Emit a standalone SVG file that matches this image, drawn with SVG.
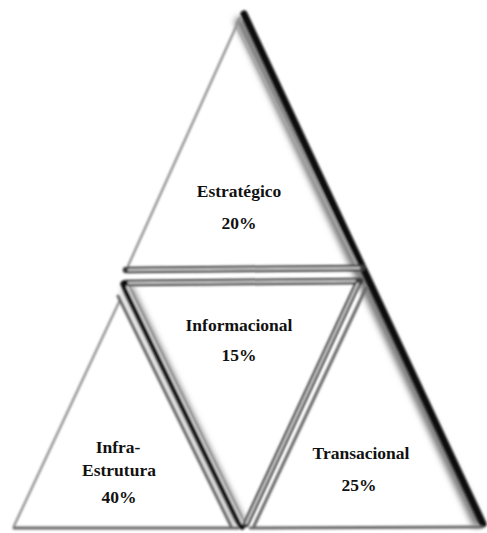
<svg xmlns="http://www.w3.org/2000/svg" width="487" height="533" viewBox="0 0 487 533">
<defs>
<filter id="soft" x="-10%" y="-10%" width="120%" height="120%"><feGaussianBlur stdDeviation="1"/></filter>
<filter id="wide" x="-10%" y="-10%" width="120%" height="120%"><feGaussianBlur stdDeviation="3"/></filter>
<style>
.lbl{font-family:"Liberation Serif","Times New Roman",serif;font-weight:bold;font-size:17.5px;fill:#111;text-anchor:middle}
.lt{stroke:#8a8a8a;stroke-width:2.2;fill:none;stroke-linecap:round}
.dk{stroke:#0a0a0a;stroke-width:7;fill:none;stroke-linecap:round}
.halo{stroke:#777;stroke-width:10;fill:none;stroke-linecap:round}
.dkw{stroke:#fff;stroke-width:1.5;fill:none}
.dbl{stroke:#3a3a3a;stroke-width:6.5;fill:none;stroke-linecap:round}
.md{stroke:#666;stroke-width:3;fill:none;stroke-linecap:round}
</style>
</defs>
<rect width="487" height="533" fill="#fff"/>
<g id="connectors">
<g filter="url(#wide)">
<line class="halo" x1="240" y1="22" x2="477" y2="522"/>
<line class="halo" x1="128" y1="290" x2="239" y2="520"/>
</g>
<g filter="url(#soft)">
<!-- outer left edge -->
<line class="lt" x1="240" y1="18" x2="128" y2="266"/>
<line class="lt" x1="120" y1="300" x2="14" y2="526"/>
<!-- outer right thick black edge -->
<line class="dk" stroke-width="8" x1="244" y1="14" x2="483" y2="524"/>
<line stroke="#aaa" stroke-width="2.5" x1="237" y1="26" x2="358" y2="267"/>
<!-- top triangle base / middle top edge -->
<line class="dbl" x1="126" y1="270" x2="362" y2="268"/>
<line class="dkw" x1="128" y1="270" x2="360" y2="268"/>
<line class="dbl" x1="126" y1="283" x2="360" y2="281"/>
<line class="dkw" x1="128" y1="283" x2="358" y2="281"/>
<!-- middle left edge -->
<line class="dk" x1="124" y1="284" x2="242" y2="526"/>
<line stroke="#f4f4f4" stroke-width="2" x1="127" y1="286" x2="243" y2="524"/>
<!-- middle right edge -->
<line class="dbl" x1="358" y1="283" x2="246" y2="524"/>
<line class="dkw" x1="358" y1="283" x2="246" y2="524"/>
<line class="md" x1="366" y1="288" x2="254" y2="526"/>
<!-- bottom edges -->
<line class="md" x1="14" y1="528" x2="238" y2="528"/>
<line class="md" x1="250" y1="528" x2="482" y2="527"/>
<!-- bottom-left triangle right edge -->
<line class="md" x1="118" y1="296" x2="231" y2="526"/>
</g>
</g>
<g id="n-estrategico">
<text class="lbl" x="239" y="197">Estratégico</text>
<text class="lbl" x="239" y="229">20%</text>
</g>
<g id="n-informacional">
<text class="lbl" x="239" y="331">Informacional</text>
<text class="lbl" x="239" y="361">15%</text>
</g>
<g id="n-infra">
<text class="lbl" x="118" y="453">Infra-</text>
<text class="lbl" x="119" y="476">Estrutura</text>
<text class="lbl" x="119" y="503">40%</text>
</g>
<g id="n-transacional">
<text class="lbl" x="361" y="459">Transacional</text>
<text class="lbl" x="359" y="491">25%</text>
</g>
</svg>
